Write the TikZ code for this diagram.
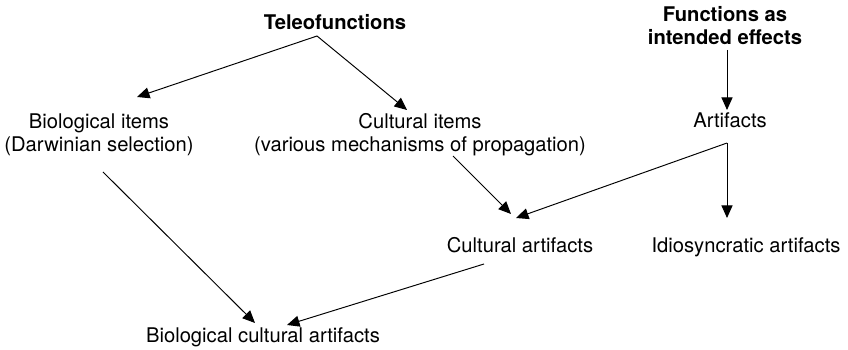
\documentclass[tikz,border=0pt]{standalone}
\usepackage{fontspec}
\setmainfont{TeX Gyre Heros}
\usetikzlibrary{arrows.meta}

\begin{document}
\begin{tikzpicture}[
    x=0.02cm, y=-0.02cm,
    label/.style={inner sep=0pt, anchor=base, align=center, font=\fontsize{11.5}{13.6}\selectfont},
    heading/.style={label, font=\fontsize{11.5}{13.6}\selectfont\bfseries},
    link/.style={draw, line width=0.55pt, -{Triangle[length=0.25cm, width=0.22cm]}}
]
\useasboundingbox (0,0) rectangle (848,350);

% ─── Function notions (Top) ──────────────────────────────────────────
\node[heading] (tele) at (335, 30) {Teleofunctions};
\node[heading] (func) at (725, 45) {Functions as\\intended effects};

% ─── Items (base anchor sits on the last line) ───────────────────────
\node[label] (bio) at (99, 152) {Biological items\\(Darwinian selection)};
\node[label] (cult) at (420, 152) {Cultural items\\(various mechanisms of propagation)};
\node[label] (art) at (730, 128) {Artifacts};

% ─── Kinds of artifacts ──────────────────────────────────────────────
\node[label] (cultart) at (520, 253) {Cultural artifacts};
\node[label] (idio) at (746, 253) {Idiosyncratic artifacts};
\node[label] (bca) at (263, 343) {Biological cultural artifacts};

% ─── Links ───────────────────────────────────────────────────────────
\draw[link] ([shift={(-18,6)}]tele.base) -- ([shift={(38,-55)}]bio.base);
\draw[link] ([shift={(-18,6)}]tele.base) -- ([shift={(-13,-42)}]cult.base);
\draw[link] ([shift={(2,5)}]func.base) -- ([shift={(-3,-18)}]art.base);

\draw[link] ([shift={(-3,15)}]art.base) -- ([shift={(-4,-35)}]cultart.base);
\draw[link] ([shift={(-3,15)}]art.base) -- ([shift={(-19,-35)}]idio.base);
\draw[link] ([shift={(33,4)}]cult.base) -- ([shift={(-9,-39)}]cultart.base);

% Both lines end just above the bottom label
\draw[link] ([shift={(4,20)}]bio.base) -- ([shift={(-8,-20)}]bca.base);
\draw[link] ([shift={(-36,11)}]cultart.base) -- ([shift={(24,-18)}]bca.base);

\end{tikzpicture}
\end{document}
